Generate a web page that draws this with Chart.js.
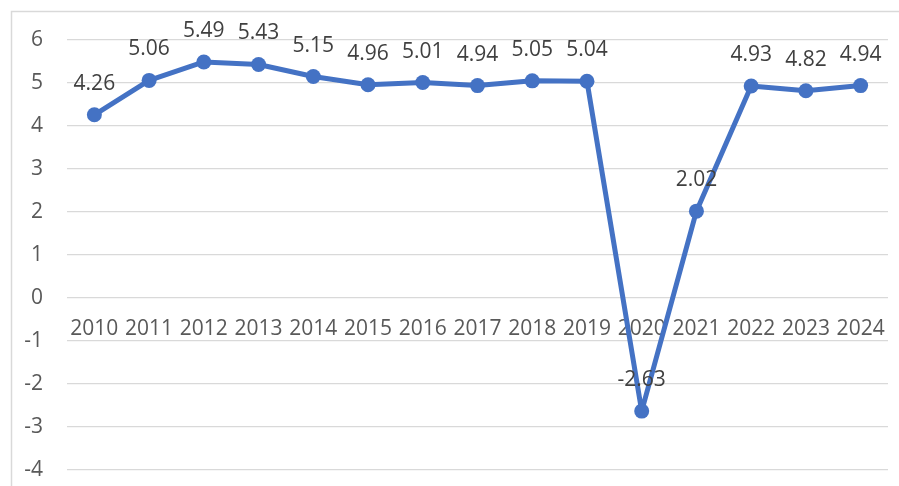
<!DOCTYPE html>
<html>
<head>
<meta charset="utf-8">
<script src="https://cdn.jsdelivr.net/npm/chart.js@4.4.1/dist/chart.umd.min.js"></script>
<style>
  html, body { margin: 0; padding: 0; background: #fff; }
  #wrap { width: 899px; height: 486px; }
</style>
</head>
<body>
<div id="wrap"><canvas id="c" width="899" height="486"></canvas></div>
<script>
const years = ['2010','2011','2012','2013','2014','2015','2016','2017','2018','2019','2020','2021','2022','2023','2024'];
const values = [4.26, 5.06, 5.49, 5.43, 5.15, 4.96, 5.01, 4.94, 5.05, 5.04, -2.63, 2.02, 4.93, 4.82, 4.94];
const yMin = -4;
const yMax = 6;

const FONT = "'Open Sans', 'Liberation Sans', sans-serif";

const frame = {
  id: 'frame',
  beforeDraw(chart) {
    const ctx = chart.ctx;
    ctx.save();
    ctx.fillStyle = '#ffffff';
    ctx.fillRect(0, 0, chart.width, chart.height);
    ctx.strokeStyle = '#D9D9D9';
    ctx.lineWidth = 1.5;
    ctx.strokeRect(11.5, 11.5, chart.width + 50, chart.height + 50);
    ctx.restore();
  }
};

// category labels drawn just below the zero line, using the chart's own scales
const categoryLabels = {
  id: 'categoryLabels',
  beforeDatasetsDraw(chart) {
    const ctx = chart.ctx;
    const xs = chart.scales.x, ys = chart.scales.y;
    const y0 = ys.getPixelForValue(0);
    ctx.save();
    ctx.font = '21px ' + FONT;
    ctx.fillStyle = '#595959';
    ctx.textAlign = 'center';
    ctx.textBaseline = 'middle';
    years.forEach((lab, i) => {
      ctx.fillText(lab, xs.getPixelForValue(i), y0 + 31);
    });
    ctx.restore();
  }
};

const dataLabels = {
  id: 'dataLabels',
  afterDatasetsDraw(chart) {
    const ctx = chart.ctx;
    const meta = chart.getDatasetMeta(0);
    ctx.save();
    ctx.font = '21px ' + FONT;
    ctx.fillStyle = '#404040';
    ctx.textAlign = 'center';
    ctx.textBaseline = 'middle';
    meta.data.forEach((pt, i) => {
      ctx.fillText(values[i].toFixed(2), pt.x, pt.y - 31);
    });
    ctx.restore();
  }
};

new Chart(document.getElementById('c'), {
  type: 'line',
  data: {
    labels: years,
    datasets: [{
      data: values,
      borderColor: '#4472C4',
      backgroundColor: '#4472C4',
      borderWidth: 5,
      borderJoinStyle: 'round',
      borderCapStyle: 'round',
      pointRadius: 7.5,
      pointBackgroundColor: '#4472C4',
      pointBorderColor: '#4472C4',
      pointBorderWidth: 0,
      tension: 0,
      clip: false
    }]
  },
  options: {
    responsive: false,
    animation: false,
    devicePixelRatio: 1,
    layout: { padding: { left: 0, right: 11, top: 40, bottom: 16 } },
    plugins: { legend: { display: false }, tooltip: { enabled: false } },
    scales: {
      x: {
        type: 'category',
        offset: true,
        display: false
      },
      y: {
        min: yMin,
        max: yMax,
        ticks: {
          stepSize: 1,
          color: '#595959',
          font: { family: FONT, size: 21 },
          padding: 24
        },
        grid: { color: '#D9D9D9', lineWidth: 1.3, drawTicks: false },
        border: { display: false },
        afterFit(scale) {
          scale.width = 67;
          scale.paddingTop = 0;
          scale.paddingBottom = 0;
        }
      }
    }
  },
  plugins: [frame, categoryLabels, dataLabels]
});
</script>
</body>
</html>
